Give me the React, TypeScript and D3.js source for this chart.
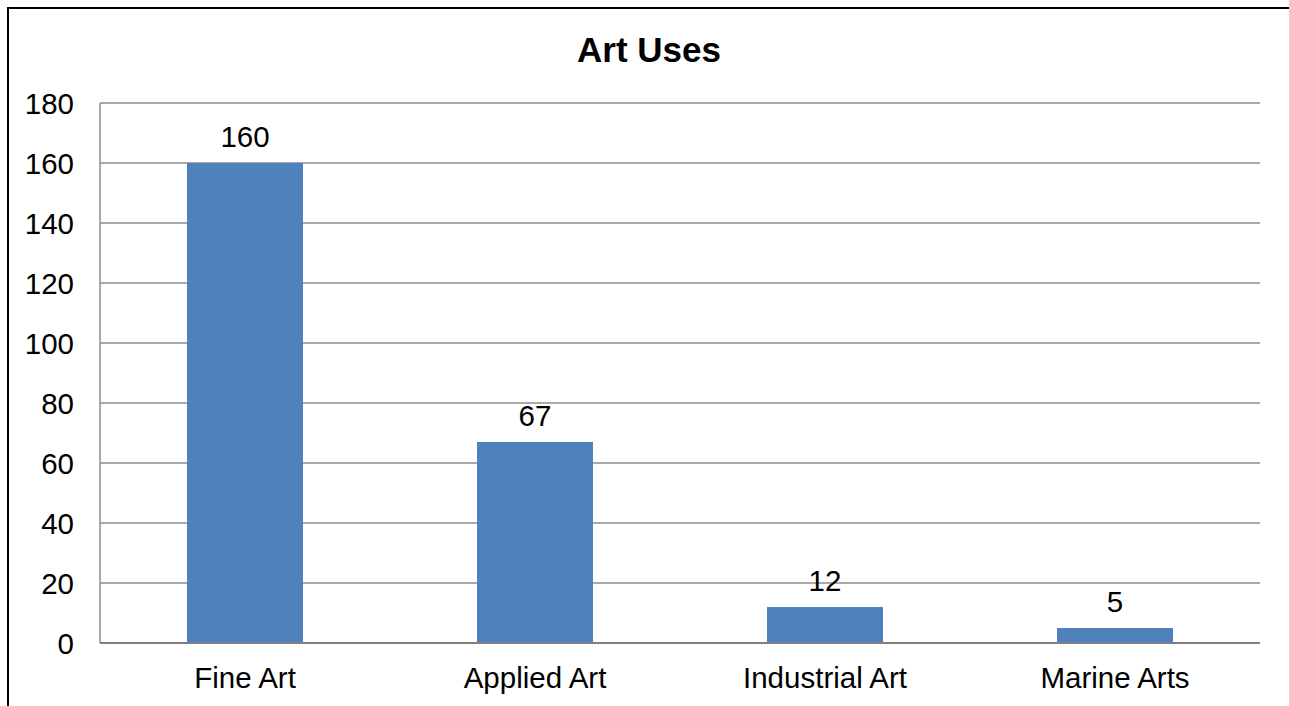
import React from "react";
import * as d3 from "d3";

const categories = ["Fine Art", "Applied Art", "Industrial Art", "Marine Arts"];
const values = [160, 67, 12, 5];
const yTicks = [0, 20, 40, 60, 80, 100, 120, 140, 160, 180];
const title = "Art Uses";

const W = 1289;
const H = 706;
const FONT = "'Liberation Sans', Arial, sans-serif";

export default function App() {
  const left = 100, right = 1260, top = 103, bottom = 643;
  const band = d3.scaleBand<string>().domain(categories).range([left, right]);
  const y = d3.scaleLinear().domain([0, 180]).range([bottom, top]);
  const barW = band.bandwidth() / 2.5;

  return (
    <svg width={W} height={H} style={{ position: "fixed", left: 0, top: 0, background: "#fff" }}>
      <rect x={0} y={0} width={W} height={H} fill="#fff" />
      <line x1={8} x2={W} y1={8} y2={8} stroke="#000" strokeWidth={2} />
      <line x1={8} x2={8} y1={7} y2={H} stroke="#000" strokeWidth={2} />
      <text x={649} y={62} textAnchor="middle" fontFamily={FONT} fontWeight="bold" fontSize={35}>
        {title}
      </text>
      {yTicks.map((t) => (
        <g key={t}>
          {t > 0 && (
            <line x1={left} x2={right} y1={y(t)} y2={y(t)} stroke="#8c8c8c" strokeWidth={1.5} />
          )}
          <text x={74} y={y(t)} dy="0.36em" textAnchor="end" fontFamily={FONT} fontSize={29.5}>
            {t}
          </text>
        </g>
      ))}
      <line x1={left} x2={left} y1={top} y2={bottom} stroke="#8c8c8c" strokeWidth={1.5} />
      {categories.map((c, i) => {
        const cx = (band(c) as number) + band.bandwidth() / 2;
        return (
          <g key={c}>
            <rect x={cx - barW / 2} y={y(values[i])} width={barW} height={bottom - y(values[i])} fill="#4F81BD" />
            <text x={cx} y={y(values[i]) - 16} textAnchor="middle" fontFamily={FONT} fontSize={29.5}>
              {values[i]}
            </text>
            <text x={cx} y={688} textAnchor="middle" fontFamily={FONT} fontSize={29.5}>
              {c}
            </text>
          </g>
        );
      })}
      <line x1={left} x2={right} y1={bottom} y2={bottom} stroke="#808080" strokeWidth={2} />
    </svg>
  );
}
